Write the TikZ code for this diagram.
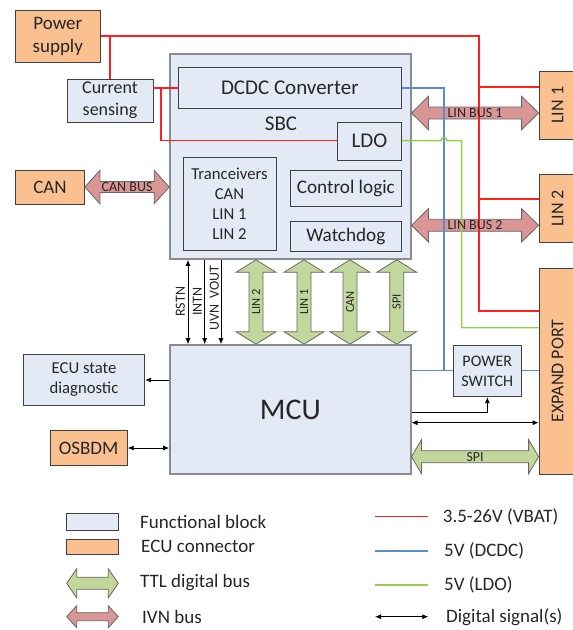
\documentclass[tikz,border=0pt]{standalone}
\usepackage{fontspec}
\usepackage{graphicx}
\setmainfont{Carlito}
\usetikzlibrary{calc,arrows.meta}
\definecolor{fblue}{HTML}{E4EAF5}
\definecolor{conor}{HTML}{FAC090}
\definecolor{ivn}{HTML}{D99694}
\definecolor{ttl}{HTML}{C3D69B}
\definecolor{vbat}{HTML}{FF1F1F}
\definecolor{vdcdc}{HTML}{558ED5}
\definecolor{vldo}{HTML}{92D050}
\definecolor{txt}{HTML}{262626}
\newcommand\fsz[2]{\fontsize{#1}{#2}\selectfont}
\newcommand\hbus[6]{%
 \draw[#1] (#2) -- ($(#2)+(#6,-#4)$) -- ($(#2)+(#6,-#5)$) -- ($(#3)+(-#6,-#5)$) -- ($(#3)+(-#6,-#4)$) -- (#3) -- ($(#3)+(-#6,#4)$) -- ($(#3)+(-#6,#5)$) -- ($(#2)+(#6,#5)$) -- ($(#2)+(#6,#4)$) -- cycle;}
\newcommand\vbus[6]{%
 \draw[#1] (#2) -- ($(#2)+(-#4,#6)$) -- ($(#2)+(-#5,#6)$) -- ($(#3)+(-#5,-#6)$) -- ($(#3)+(-#4,-#6)$) -- (#3) -- ($(#3)+(#4,-#6)$) -- ($(#3)+(#5,-#6)$) -- ($(#2)+(#5,#6)$) -- ($(#2)+(#4,#6)$) -- cycle;}
\tikzset{
 blk/.style={draw=black!75, line width=0.8pt, fill=fblue, inner sep=0pt, align=center, text=txt},
 bigblk/.style={draw=black!45, line width=1.6pt, fill=fblue, inner sep=0pt, text=txt},
 conn/.style={draw=black!75, line width=0.8pt, fill=conor, inner sep=0pt, align=center, text=txt},
 pwrline/.style={draw=vbat, line width=1.5pt},
 dcline/.style={draw=vdcdc, line width=1.5pt},
 ldoline/.style={draw=vldo, line width=1.5pt},
 sig/.style={draw=black, line width=0.8pt, -{Latex[length=6pt,width=5pt]}},
 sigboth/.style={draw=black, line width=0.8pt, {Latex[length=6pt,width=5pt]}-{Latex[length=6pt,width=5pt]}},
 ivnbus/.style={draw=black!60, line width=0.8pt, fill=ivn},
 ttlbus/.style={draw=black!60, line width=0.8pt, fill=ttl},
 lbl/.style={text=txt, inner sep=0pt},
}
\begin{document}
\begin{tikzpicture}[x=1pt,y=-1pt]
\useasboundingbox (0,0) rectangle (573,630);
% blocks
\node[conn, minimum width=85.5pt, minimum height=51.8pt, font=\fsz{19}{23}] (pwr) at (57.8,36.4) {Power\\supply};
\node[blk, minimum width=86pt, minimum height=43pt, font=\fsz{18}{22}] (cur) at (110,100.5) {Current\\sensing};
\node[bigblk, minimum width=240.7pt, minimum height=205pt] (sbc) at (290.35,156.5) {};
\node[blk, minimum width=223.7pt, minimum height=41pt, font=\fsz{21}{25}] (dcdc) at (289.85,87.5) {DCDC Converter};
\node[lbl, font=\fsz{21}{25}] (sbclbl) at (281,124) {SBC};
\node[blk, minimum width=64.7pt, minimum height=38pt, font=\fsz{21}{25}] (ldo) at (369.35,141) {LDO};
\node[blk, minimum width=93pt, minimum height=93.7pt, font=\fsz{16.7}{20}] (trx) at (229.5,203.85) {Tranceivers\\CAN\\LIN 1\\LIN 2};
\node[blk, minimum width=111.7pt, minimum height=36pt, font=\fsz{19.2}{23}] (ctl) at (345.85,188.5) {Control logic};
\node[blk, minimum width=111.7pt, minimum height=30pt, font=\fsz{19.2}{23}] (wdg) at (345.85,236) {Watchdog};
\node[conn, minimum width=69pt, minimum height=34pt, font=\fsz{19}{23}] (can) at (50,187) {CAN};
\node[conn, minimum width=37pt, minimum height=68pt, font=\fsz{18}{22}] (lin1) at (557.5,105.3) {\rotatebox{90}{LIN 1}};
\node[conn, minimum width=37pt, minimum height=68.7pt, font=\fsz{18}{22}] (lin2) at (557.5,208.35) {\rotatebox{90}{LIN 2}};
\node[conn, minimum width=37pt, minimum height=206pt, font=\fsz{18}{22}] (exp) at (557.5,371) {\rotatebox{90}{EXPAND PORT}};
\node[bigblk, minimum width=240.7pt, minimum height=129pt, font=\fsz{30}{36}] (mcu) at (290.35,409.5) {MCU};
\node[blk, minimum width=121.4pt, minimum height=50.7pt, font=\fsz{16.7}{20}] (ecu) at (84,379.7) {ECU state\\diagnostic};
\node[conn, minimum width=77.3pt, minimum height=34.6pt, font=\fsz{19}{23}] (osb) at (88.65,448) {OSBDM};
\node[blk, minimum width=68.7pt, minimum height=51pt, font=\fsz{16.1}{20}] (psw) at (487.35,371.2) {POWER\\SWITCH};
% bus arrows
\coordinate (cbA) at (can.east);
\coordinate (cbB) at (sbc.west |- can.east);
\hbus{ivnbus}{cbA}{cbB}{16.7}{5.5}{15}
\coordinate (l1A) at (sbc.east |- 0,113);
\coordinate (l1B) at (lin1.west |- 0,113);
\hbus{ivnbus}{l1A}{l1B}{16.7}{6}{17}
\coordinate (l2A) at (sbc.east |- 0,225.3);
\coordinate (l2B) at (lin2.west |- 0,225.3);
\hbus{ivnbus}{l2A}{l2B}{16.7}{6}{17}
\coordinate (v1A) at (256,0 |- sbc.south);
\coordinate (v1B) at (256,0 |- mcu.north);
\coordinate (v2A) at (304,0 |- sbc.south);
\coordinate (v2B) at (304,0 |- mcu.north);
\coordinate (v3A) at (350,0 |- sbc.south);
\coordinate (v3B) at (350,0 |- mcu.north);
\coordinate (v4A) at (396.7,0 |- sbc.south);
\coordinate (v4B) at (396.7,0 |- mcu.north);
\vbus{ttlbus}{v1A}{v1B}{20}{7}{12.5}
\vbus{ttlbus}{v2A}{v2B}{20}{7}{12.5}
\vbus{ttlbus}{v3A}{v3B}{20}{7}{12.5}
\vbus{ttlbus}{v4A}{v4B}{20}{7}{12.5}
\coordinate (spA) at (mcu.east |- 0,456.7);
\coordinate (spB) at (exp.west |- 0,456.7);
\hbus{ttlbus}{spA}{spB}{17}{6}{10}
% power lines
\coordinate (rj1) at (479,36);
\coordinate (rj2) at (479,311);
\draw[pwrline] (pwr.east |- rj1) -- (rj1) -- (rj2) -- (exp.west |- rj2);
\draw[pwrline] (479,87) -- (lin1.west |- 0,87);
\draw[pwrline] (479,199) -- (lin2.west |- 0,199);
\draw[pwrline] (110,36) -- (cur.north);
\draw[pwrline] (cur.east |- 0,88) -- (dcdc.west |- 0,88);
\draw[pwrline] (161,88) -- (161,140.7) -- (ldo.west |- 0,140.7);
\draw[dcline] (dcdc.east |- 0,88) -- (444,88) -- (444,370.7);
\draw[dcline] (mcu.east |- 0,370.7) -- (psw.west |- 0,370.7);
\draw[dcline] (psw.east |- 0,370.7) -- (exp.west |- 0,370.7);
\draw[ldoline] (ldo.east |- 0,140.7) -- (441,140.7) .. controls (441,136.5) and (447,136.5) .. (447,140.7) -- (461.7,140.7) -- (461.7,327.7) -- (exp.west |- 0,327.7);
% digital signals
\draw[sigboth] (188,0 |- sbc.south) -- (188,0 |- mcu.north);
\draw[sig] (204.7,0 |- sbc.south) -- (204.7,0 |- mcu.north);
\draw[sig] (221,0 |- sbc.south) -- (221,0 |- mcu.north);
\draw[sig] (mcu.west |- 0,380) -- (ecu.east |- 0,380);
\draw[sigboth] (osb.east) -- (mcu.west |- osb.east);
\draw[sig] (mcu.east |- 0,412.7) -- (psw.south |- 0,412.7) -- (psw.south);
\draw[sigboth] (mcu.east |- 0,422.7) -- (exp.west |- 0,422.7);
% labels
\node[lbl, font=\fsz{14}{16}] (cbl) at ($(cbA)!0.5!(cbB)$) {CAN BUS};
\node[lbl, font=\fsz{14}{16}] (l1l) at ($(l1A)!0.5!(l1B)$) {LIN BUS 1};
\node[lbl, font=\fsz{14}{16}] (l2l) at ($(l2A)!0.5!(l2B)$) {LIN BUS 2};
\node[lbl, rotate=90, font=\fsz{12.5}{15}] (v1l) at ($(v1A)!0.5!(v1B)$) {LIN 2};
\node[lbl, rotate=90, font=\fsz{12.5}{15}] (v2l) at ($(v2A)!0.5!(v2B)$) {LIN 1};
\node[lbl, rotate=90, font=\fsz{12.5}{15}] (v3l) at ($(v3A)!0.5!(v3B)$) {CAN};
\node[lbl, rotate=90, font=\fsz{12.5}{15}] (v4l) at ($(v4A)!0.5!(v4B)$) {SPI};
\node[lbl, font=\fsz{13.8}{16}] (spl) at ($(spA)!0.5!(spB)$) {SPI};
\node[lbl, rotate=90, font=\fsz{14}{16}] (rstn) at (180.3,301.7) {RSTN};
\node[lbl, rotate=90, font=\fsz{14}{16}] (intn) at (197.3,301.7) {INTN};
\node[lbl, rotate=90, font=\fsz{14}{16}] (uvn) at (214.5,298) {UVN\ \ VOUT};
% legend
\node[blk, minimum width=51.6pt, minimum height=17.4pt] (lg1) at (92.5,522) {};
\node[conn, minimum width=51.6pt, minimum height=15.3pt] (lg2) at (92.5,546.65) {};
\coordinate (lg3a) at (66.7,583.3);
\coordinate (lg3b) at (118.3,583.3);
\hbus{ttlbus}{lg3a}{lg3b}{14.5}{6}{10}
\coordinate (lg4a) at (66.7,616.7);
\coordinate (lg4b) at (118.3,616.7);
\hbus{ivnbus}{lg4a}{lg4b}{11}{4}{10}
\node[lbl, anchor=west, font=\fsz{19}{23}] (lt1) at (140,521.7) {Functional block};
\node[lbl, anchor=west, font=\fsz{19}{23}] (lt2) at (141,546.7) {ECU connector};
\node[lbl, anchor=west, font=\fsz{19}{23}] (lt3) at (140,582.7) {TTL digital bus};
\node[lbl, anchor=west, font=\fsz{19}{23}] (lt4) at (142,616.7) {IVN bus};
\coordinate (lr1a) at (375,516.7);
\coordinate (lr1b) at (428.3,516.7);
\draw[pwrline] (lr1a) -- (lr1b);
\coordinate (lr2a) at (375,551);
\coordinate (lr2b) at (428.3,551);
\draw[dcline] (lr2a) -- (lr2b);
\coordinate (lr3a) at (375,585);
\coordinate (lr3b) at (428.3,585);
\draw[ldoline] (lr3a) -- (lr3b);
\coordinate (lr4a) at (375,616.7);
\coordinate (lr4b) at (428.3,616.7);
\draw[sigboth] (lr4a) -- (lr4b);
\node[lbl, anchor=west, font=\fsz{19}{23}] (rt1) at (442.7,516.7) {3.5-26V (VBAT)};
\node[lbl, anchor=west, font=\fsz{19}{23}] (rt2) at (444,551) {5V (DCDC)};
\node[lbl, anchor=west, font=\fsz{19}{23}] (rt3) at (444,585) {5V (LDO)};
\node[lbl, anchor=west, font=\fsz{19}{23}] (rt4) at (446,616.7) {Digital signal(s)};
\end{tikzpicture}
\end{document}
